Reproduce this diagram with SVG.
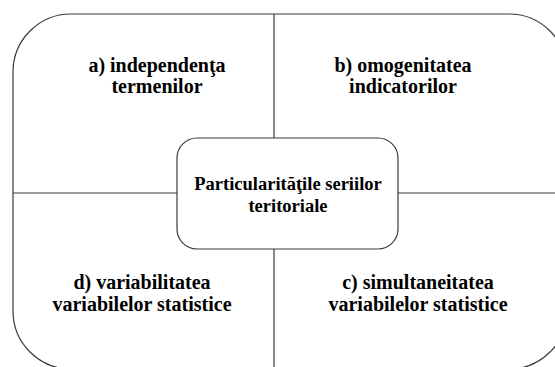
<svg xmlns="http://www.w3.org/2000/svg" width="555" height="367" viewBox="0 0 555 367">
<style>
.frame{fill:none;stroke:#3a3a3a;stroke-width:1.2}
.box{fill:#ffffff;stroke:#3a3a3a;stroke-width:1.2}
.line{stroke:#3a3a3a;stroke-width:1.2;fill:none}
text{font-family:'Liberation Serif','Times New Roman',serif;font-weight:bold;fill:#000;text-anchor:middle}
.q{font-size:20px}
.c{font-size:18.5px}
</style>
<rect width="555" height="367" fill="#ffffff"/>
<g id="frame">
<rect class="frame" x="13" y="14" width="554" height="355" rx="58" ry="58"/>
</g>
<g id="connectors">
<line class="line" x1="274" y1="14" x2="274" y2="138"/>
<line class="line" x1="274" y1="249" x2="274" y2="367"/>
<line class="line" x1="13" y1="193" x2="177" y2="193"/>
<line class="line" x1="398" y1="193" x2="555" y2="193"/>
</g>
<g id="center">
<rect class="box" x="177" y="138" width="221" height="111" rx="20" ry="20"/>
<text class="c" x="288" y="190">Particularităţile seriilor</text>
<text class="c" x="288" y="212">teritoriale</text>
</g>
<g id="a">
<text class="q" x="157" y="72">a) independenţa</text>
<text class="q" x="157" y="93">termenilor</text>
</g>
<g id="b">
<text class="q" x="403" y="72">b) omogenitatea</text>
<text class="q" x="403" y="93">indicatorilor</text>
</g>
<g id="d">
<text class="q" x="142" y="289">d) variabilitatea</text>
<text class="q" x="142" y="311">variabilelor statistice</text>
</g>
<g id="c">
<text class="q" x="418" y="289">c) simultaneitatea</text>
<text class="q" x="418" y="311">variabilelor statistice</text>
</g>
</svg>
